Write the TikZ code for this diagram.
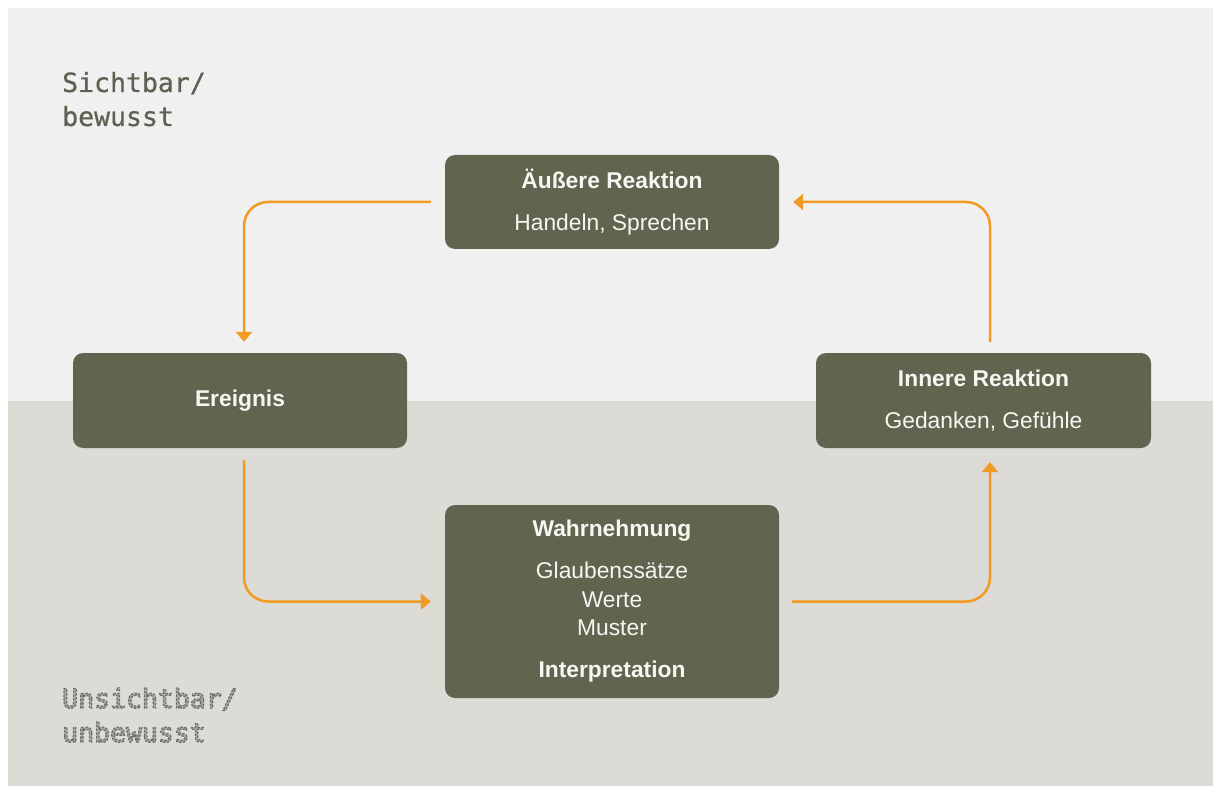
\documentclass[tikz,border=0pt]{standalone}
\usepackage{fontspec}
\setmainfont{Liberation Sans}
\newfontfamily\labelmono{DejaVu Sans Mono}[FakeBold=0.5]
\newfontfamily\labelmonoplain{DejaVu Sans Mono}
\usetikzlibrary{arrows.meta}

\definecolor{panelTop}{HTML}{F0F0F0}
\definecolor{panelBottom}{HTML}{DCDBD6}
\definecolor{boxfill}{HTML}{62644F}
\definecolor{boxtext}{HTML}{F7F7F2}
\definecolor{flowcol}{HTML}{F29A22}
\definecolor{seenlabel}{HTML}{5E6051}
\definecolor{unseenlabel}{HTML}{A8A7A0}

% glyphs filled light, with a darker dashed outline on top
\newcommand\dashedglyphs[1]{\special{pdf:literal direct 2 Tr 1.2 w [2.4 1.4] 0 d 0.42 0.42 0.39 RG}#1\special{pdf:literal direct 0 Tr [] 0 d}}

\begin{document}
\begin{tikzpicture}[x=1pt,y=-1pt,
  stage/.style={rectangle, rounded corners=10pt, fill=boxfill, text=boxtext,
    align=center, font=\fontsize{22.8}{28.5}\selectfont, minimum width=334pt, inner sep=0pt},
  flow/.style={draw=flowcol, line width=2.5pt, rounded corners=24pt,
    -{Triangle[width=16pt,length=10pt]}},
  seen/.style={font=\labelmono\fontsize{26.5}{34}\selectfont, text=seenlabel, inner sep=0pt, anchor=base west},
  unseen/.style={font=\labelmonoplain\fontsize{26.5}{34}\selectfont, text=unseenlabel, inner sep=0pt, anchor=base west}]

  % canvas and the two layers
  \useasboundingbox (0,0) rectangle (1213,786);
  \fill[white] (0,0) rectangle (1213,786);
  \fill[panelTop] (8,8) rectangle (1213,401);
  \fill[panelBottom] (8,401) rectangle (1213,786);

  % layer labels
  \node[seen] (seenA) at (62,92) {Sichtbar/};
  \node[seen] (seenB) at (62,126) {bewusst};
  \node[unseen] (unseenA) at (62,708) {\dashedglyphs{Unsichtbar/}};
  \node[unseen] (unseenB) at (62,742) {\dashedglyphs{unbewusst}};

  % stages of the cycle
  \node[stage, minimum height=94pt] (aussen) at (612,202)
    {\textbf{Äußere Reaktion}\\[13.5pt]Handeln, Sprechen};
  \node[stage, minimum height=95pt] (ereignis) at (240,400.5)
    {\textbf{Ereignis}};
  \node[stage, minimum height=95pt, minimum width=335pt] (innen) at (983.5,400.5)
    {\textbf{Innere Reaktion}\\[13.5pt]Gedanken, Gefühle};
  \node[stage, minimum height=193pt] (wahr) at (612,601.5)
    {\textbf{Wahrnehmung}\\[13.5pt]Glaubenssätze\\Werte\\Muster\\[13.5pt]\textbf{Interpretation}};

  % cycle connectors
  \draw[flow] ([xshift=-14pt]aussen.west) -| ([xshift=4pt,yshift=11pt]ereignis.north);
  \draw[flow] ([xshift=4pt,yshift=-12pt]ereignis.south) |- ([xshift=-14pt]wahr.west);
  \draw[flow] ([xshift=13pt]wahr.east) -| ([xshift=6.5pt,yshift=-14pt]innen.south);
  \draw[flow] ([xshift=6.5pt,yshift=11pt]innen.north) |- ([xshift=14pt]aussen.east);
\end{tikzpicture}
\end{document}
